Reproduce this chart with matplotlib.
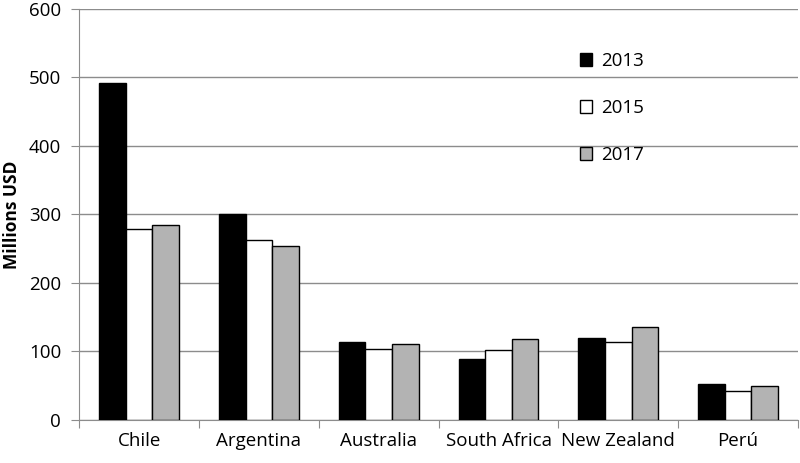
import numpy as np
import matplotlib.pyplot as plt

plt.rcParams['font.family'] = ['Open Sans', 'DejaVu Sans']

countries = ['Chile', 'Argentina', 'Australia', 'South Africa', 'New Zealand', 'Perú']
years = ['2013', '2015', '2017']
v2013 = [492, 300, 114, 89, 120, 52]
v2015 = [278, 262, 104, 102, 114, 42]
v2017 = [285, 254, 111, 118, 136, 50]

colors = ['#000000', '#ffffff', '#b3b3b3']

fig = plt.figure(figsize=(8, 4.63), dpi=100)
ax = fig.add_axes([0.099, 0.093, 0.8985, 0.888])

x = np.arange(len(countries))
w = 0.222
for i, (vals, c) in enumerate(zip([v2013, v2015, v2017], colors)):
    ax.bar(x + (i - 1) * w, vals, w, color=c, edgecolor='black', linewidth=1,
           label=years[i], zorder=3)

ax.set_ylim(0, 600)
ax.set_xlim(-0.5, len(countries) - 0.5)
ax.set_yticks(range(0, 601, 100))
ax.yaxis.grid(True, color='#8c8c8c', linewidth=1, zorder=0)

# ticks at category boundaries, labels at centres
ax.set_xticks(np.arange(-0.5, len(countries)), labels=[])
ax.set_xticks(x, labels=countries, minor=True)
ax.tick_params(axis='x', which='major', length=6, color='#8c8c8c', direction='out')
ax.tick_params(axis='x', which='minor', length=0, pad=9, labelsize=13.5)
ax.tick_params(axis='y', length=6, color='#8c8c8c', labelsize=13.5, pad=7)

for s in ['top', 'right']:
    ax.spines[s].set_visible(False)
for s in ['left', 'bottom']:
    ax.spines[s].set_color('#8c8c8c')

ax.set_ylabel('Millions USD', fontsize=12.5, fontweight='bold', labelpad=6)

ax.legend(loc='upper left', bbox_to_anchor=(0.673, 0.936), frameon=False,
          fontsize=13.5, handlelength=0.65, handleheight=0.65, handletextpad=0.5,
          labelspacing=1.55)

fig.savefig('out.png', dpi=100)
